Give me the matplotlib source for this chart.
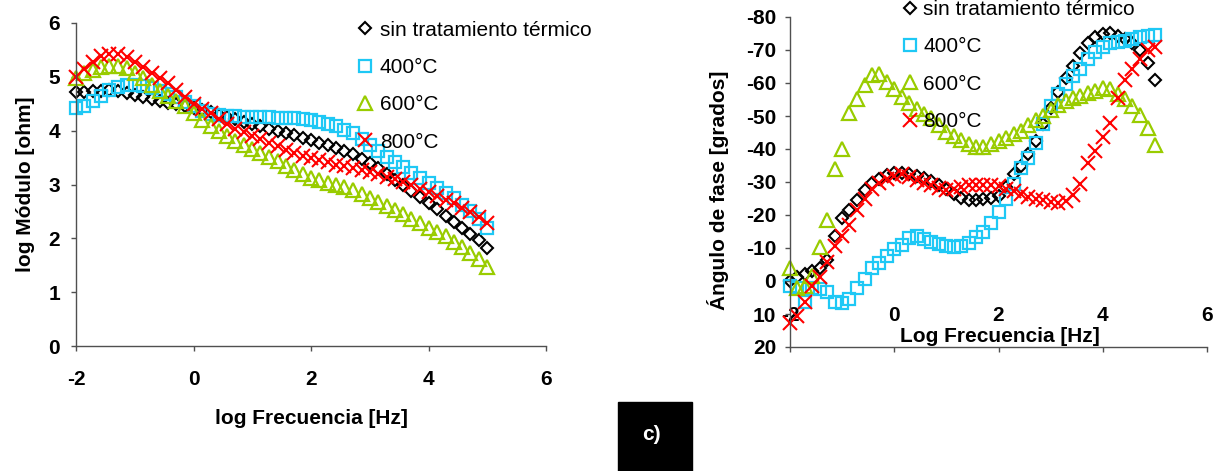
import matplotlib
matplotlib.use('Agg')
import matplotlib.pyplot as plt
from matplotlib.patches import Rectangle

plt.rcParams['font.family'] = ['Liberation Sans', 'DejaVu Sans']
plt.rcParams['axes.unicode_minus'] = False

# ---------------- data ----------------
log_freq = [-2.00, -1.86, -1.71, -1.57, -1.43, -1.29, -1.14, -1.00, -0.86, -0.71,
            -0.57, -0.43, -0.29, -0.14, 0.00, 0.14, 0.29, 0.43, 0.57, 0.71,
            0.86, 1.00, 1.14, 1.29, 1.43, 1.57, 1.71, 1.86, 2.00, 2.14,
            2.29, 2.43, 2.57, 2.71, 2.86, 3.00, 3.14, 3.29, 3.43, 3.57,
            3.71, 3.86, 4.00, 4.14, 4.29, 4.43, 4.57, 4.71, 4.86, 5.00]

series_labels = ['sin tratamiento térmico', '400°C', '600°C', '800°C']

# log |Z| [ohm]
modulo_sin = [4.72, 4.72, 4.73, 4.74, 4.75, 4.73, 4.70, 4.67, 4.63, 4.59,
              4.55, 4.52, 4.49, 4.46, 4.42, 4.38, 4.34, 4.30, 4.26, 4.22,
              4.17, 4.13, 4.08, 4.04, 4.00, 3.96, 3.92, 3.87, 3.83, 3.78,
              3.73, 3.68, 3.63, 3.56, 3.48, 3.40, 3.30, 3.20, 3.09, 2.99,
              2.88, 2.77, 2.66, 2.55, 2.42, 2.30, 2.19, 2.08, 1.96, 1.82]
modulo_400 = [4.42, 4.46, 4.56, 4.65, 4.75, 4.82, 4.85, 4.85, 4.83, 4.79,
              4.73, 4.68, 4.62, 4.54, 4.45, 4.36, 4.31, 4.29, 4.28, 4.27,
              4.26, 4.25, 4.25, 4.25, 4.24, 4.24, 4.23, 4.22, 4.20, 4.17,
              4.13, 4.08, 4.02, 3.95, 3.85, 3.74, 3.63, 3.52, 3.42, 3.32,
              3.22, 3.12, 3.03, 2.94, 2.85, 2.74, 2.62, 2.50, 2.35, 2.20]
modulo_600 = [4.97, 5.07, 5.13, 5.18, 5.21, 5.21, 5.17, 5.08, 4.97, 4.84,
              4.74, 4.65, 4.56, 4.46, 4.33, 4.20, 4.08, 3.99, 3.90, 3.81,
              3.73, 3.66, 3.59, 3.51, 3.43, 3.35, 3.27, 3.19, 3.13, 3.08,
              3.03, 2.99, 2.95, 2.89, 2.82, 2.75, 2.68, 2.60, 2.53, 2.45,
              2.36, 2.28, 2.20, 2.12, 2.04, 1.94, 1.84, 1.73, 1.61, 1.47]
modulo_800 = [5.00, 5.14, 5.28, 5.38, 5.43, 5.42, 5.36, 5.27, 5.18, 5.08,
              4.98, 4.88, 4.76, 4.62, 4.50, 4.40, 4.32, 4.22, 4.12, 4.04,
              3.97, 3.91, 3.84, 3.78, 3.71, 3.65, 3.59, 3.53, 3.49, 3.45,
              3.41, 3.37, 3.34, 3.31, 3.27, 3.23, 3.19, 3.14, 3.10, 3.05,
              2.99, 2.92, 2.86, 2.79, 2.72, 2.65, 2.57, 2.49, 2.40, 2.28]

# phase angle [grados]
fase_sin = [0.0, -1.2, -2.0, -2.9, -4.0, -6.5, -13.5, -19.0, -21.5, -24.5,
            -27.5, -29.7, -30.8, -32.0, -32.6, -32.7, -32.3, -31.8, -31.2, -30.3,
            -29.1, -27.9, -26.5, -25.2, -24.5, -24.4, -24.7, -25.3, -25.8, -28.5,
            -32.5, -34.8, -38.5, -42.5, -47.5, -52.5, -57.3, -61.6, -65.3, -69.2,
            -72.0, -73.8, -74.7, -75.0, -74.3, -73.4, -72.2, -70.0, -66.0, -61.0]
fase_400 = [1.5, 2.0, 6.4, 2.0, 2.5, 3.3, 6.4, 6.7, 5.5, 2.0,
            -0.5, -4.0, -5.5, -7.5, -9.8, -11.0, -13.0, -13.5, -12.8, -11.8,
            -11.2, -10.6, -10.3, -10.5, -11.5, -13.3, -14.8, -17.6, -20.9, -24.8,
            -29.5, -34.2, -37.3, -41.8, -47.5, -53.0, -56.6, -59.8, -62.2, -64.3,
            -67.2, -69.3, -70.8, -72.1, -72.4, -72.8, -73.2, -73.8, -74.2, -74.5]
fase_600 = [-4.0, 2.1, 1.5, -1.5, -10.3, -18.5, -34.0, -40.0, -51.0, -55.2,
            -59.3, -62.4, -62.6, -60.3, -58.2, -55.8, -53.8, -52.2, -50.6, -49.3,
            -47.3, -45.2, -43.9, -42.8, -41.4, -40.6, -40.6, -41.6, -42.4, -43.3,
            -44.4, -45.6, -47.3, -48.7, -50.1, -51.7, -53.2, -54.6, -55.6, -56.2,
            -56.9, -57.6, -58.5, -58.1, -56.8, -55.2, -53.0, -50.2, -46.5, -41.2]
fase_800 = [12.7, 10.5, 6.5, 1.5, -1.2, -5.8, -10.5, -13.5, -17.0, -21.5,
            -24.8, -27.8, -29.8, -31.0, -31.8, -32.3, -31.5, -30.6, -29.8, -29.0,
            -28.2, -27.6, -27.8, -28.6, -29.1, -29.1, -29.1, -29.1, -28.8, -28.0,
            -27.2, -26.5, -25.5, -25.0, -24.6, -24.0, -23.6, -24.3, -26.2, -29.5,
            -35.8, -39.5, -43.5, -48.0, -55.5, -61.0, -64.2, -67.2, -70.0, -71.0]

x_ticks = [-2, 0, 2, 4, 6]
mod_ticks = [0, 1, 2, 3, 4, 5, 6]
fase_ticks = [-80, -70, -60, -50, -40, -30, -20, -10, 0, 10, 20]

# ---------------- styles ----------------
styles = [
    dict(marker='D', ms=6.5, mfc='none', mec='black', mew=1.5),
    dict(marker='s', ms=9, mfc='none', mec='#1EC8F5', mew=1.6),
    dict(marker='^', ms=9.5, mfc='none', mec='#99CC00', mew=1.6),
    dict(marker='x', ms=9.5, mec='#FF0000', mew=1.5),
]

W, H = 1215, 471
fig = plt.figure(figsize=(W / 100, H / 100), dpi=100)


def rect(l, t, r, b):
    return [l / W, 1 - b / H, (r - l) / W, (b - t) / H]


ax1 = fig.add_axes(rect(76, 23, 546, 346))
ax2 = fig.add_axes(rect(790, 17, 1207, 347))

axis_col = '#505050'
for ax in (ax1, ax2):
    for s in ('top', 'right'):
        ax.spines[s].set_visible(False)
    for s in ('left', 'bottom'):
        ax.spines[s].set_color(axis_col)
        ax.spines[s].set_linewidth(1.0)
    ax.tick_params(direction='out', length=3.5, width=1.0, color=axis_col,
                   labelsize=15)

# Left: log modulus
mods = [modulo_sin, modulo_400, modulo_600, modulo_800]
for vals, st, lab in zip(mods, styles, series_labels):
    ax1.plot(log_freq, vals, ls='none', label=lab, clip_on=False, **st)
ax1.set_xlim(-2, 6)
ax1.set_ylim(0, 6)
ax1.set_xticks(x_ticks)
ax1.set_yticks(mod_ticks)
ax1.tick_params(axis='x', pad=14)
ax1.tick_params(axis='y', pad=8)
ax1.set_xticklabels([str(v) for v in x_ticks], fontweight='bold')
ax1.set_yticklabels([str(v) for v in mod_ticks], fontweight='bold')
ax1.set_xlabel('log Frecuencia [Hz]', fontsize=15, fontweight='bold')
ax1.xaxis.set_label_coords(0.5, -0.223)
ax1.xaxis.label.set_va('center')
ax1.set_ylabel('log Módulo [ohm]', fontsize=15, fontweight='bold')
ax1.yaxis.set_label_coords(-0.108, 0.5)
ax1.yaxis.label.set_va('center')
ax1.legend(loc='upper left', bbox_to_anchor=(0.597, 1.007), frameon=False,
           fontsize=15, handlelength=0.8, handletextpad=0.32,
           labelspacing=0.88, borderpad=0, borderaxespad=0)

# Right: phase angle
fases = [fase_sin, fase_400, fase_600, fase_800]
for vals, st, lab in zip(fases, styles, series_labels):
    ax2.plot(log_freq, vals, ls='none', label=lab, clip_on=False, **st)
ax2.set_xlim(-2, 6)
ax2.set_ylim(20, -80)
ax2.set_xticks(x_ticks)
ax2.set_yticks(fase_ticks)
ax2.tick_params(axis='x', pad=-33)
ax2.tick_params(axis='y', pad=6.5)
ax2.set_xticklabels([str(v) for v in x_ticks], fontweight='bold')
ax2.set_yticklabels([str(v) for v in fase_ticks], fontweight='bold')
ax2.set_xlabel('Log Frecuencia [Hz]', fontsize=15, fontweight='bold')
ax2.xaxis.set_label_coords(0.504, 0.033)
ax2.xaxis.label.set_va('center')
ax2.set_ylabel('Ángulo de fase [grados]', fontsize=15, fontweight='bold')
ax2.yaxis.set_label_coords(-0.173, 0.476)
ax2.yaxis.label.set_va('center')
ax2.legend(loc='upper left', bbox_to_anchor=(0.268, 1.052), frameon=False,
           fontsize=15, handlelength=0.8, handletextpad=0.225,
           labelspacing=0.88, borderpad=0, borderaxespad=0)

# panel tag
fig.patches.append(Rectangle((618 / W, 0), (692 - 618) / W, (471 - 402) / H,
                             transform=fig.transFigure, color='black'))
fig.text(651 / W, 1 - 434 / H, 'c)', color='white', fontsize=15,
         fontweight='bold', ha='center', va='center')

fig.savefig('out.png', dpi=100)
